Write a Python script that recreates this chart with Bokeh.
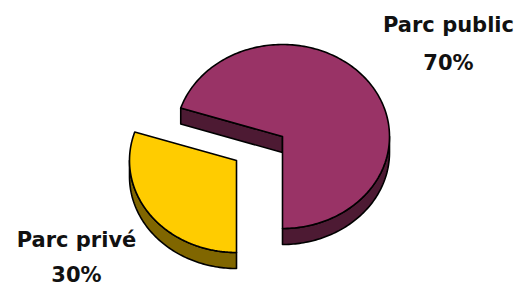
import numpy as np
from bokeh.plotting import figure
from bokeh.models import Range1d, ColumnDataSource
from bokeh.core.properties import value
from bokeh.embed import file_html
from bokeh.resources import INLINE

# Data
categories = ["Parc privé", "Parc public"]
shares = [30, 70]
pct_labels = ["30%", "70%"]
top_colors = ["#FFCC00", "#993366"]
side_colors = ["#806600", "#4D1A33"]

# Layout (page pixel coordinates, y downward)
W, H = 524, 286
rx, ry, depth = 107, 92, 16
centers = [(236, 160), (282, 136)]       # privé is exploded
label_pos = [(76, 239, 274), (448, 24, 62)]

p = figure(width=W, height=H, output_backend="svg", toolbar_location=None,
           x_range=Range1d(0, W), y_range=Range1d(H, 0),
           min_border=0)
p.axis.visible = False
p.grid.visible = False
p.outline_line_color = None
p.background_fill_color = "white"

total = sum(shares)
angles = []
a = 270.0
for s in shares:
    span = 360.0 * s / total
    angles.append((a - span, a))
    a -= span

def pt(c, th):
    return c[0] + rx * np.cos(th), c[1] - ry * np.sin(th)

def arc(c, a0, a1, dz=0.0, n=80):
    th = np.radians(np.linspace(a0, a1, n))
    return list(c[0] + rx * np.cos(th)), list(c[1] - ry * np.sin(th) + dz)

for i in [1, 0]:  # public first, then exploded privé
    a0, a1 = angles[i]
    c = centers[i]
    xs_list, ys_list, cols = [], [], []
    for base in (-360, 0, 360):
        s0 = max(a0, 180 + base)
        s1 = min(a1, 360 + base)
        if s1 > s0:
            tx, ty = arc(c, s0, s1)
            bx, by = arc(c, s1, s0, depth)
            xs_list.append(tx + bx); ys_list.append(ty + by); cols.append(side_colors[i])
    if i == 1:
        ex, ey = pt(c, np.radians(a1 % 360))
        xs_list.append([c[0], ex, ex, c[0]])
        ys_list.append([c[1], ey, ey + depth, c[1] + depth])
        cols.append(side_colors[i])
    src = ColumnDataSource(dict(xs=xs_list, ys=ys_list, fill=cols))
    p.patches("xs", "ys", fill_color="fill", line_color="black", line_width=1.6,
              line_join="round", source=src)
    tx, ty = arc(c, a0, a1, 0, 200)
    p.patch([c[0]] + tx + [c[0]], [c[1]] + ty + [c[1]], fill_color=top_colors[i],
            line_color="black", line_width=1.6, line_join="round")

for i in range(2):
    lx, ly1, ly2 = label_pos[i]
    for txt, ly in ((categories[i], ly1), (pct_labels[i], ly2)):
        p.text(x=[lx], y=[ly], text=[txt], text_align="center",
               text_baseline="middle", text_font=value("DejaVu Sans"),
               text_font_style="bold", text_font_size="21px", text_color="#111111")

open("out.html", "w").write(file_html(p, INLINE))
